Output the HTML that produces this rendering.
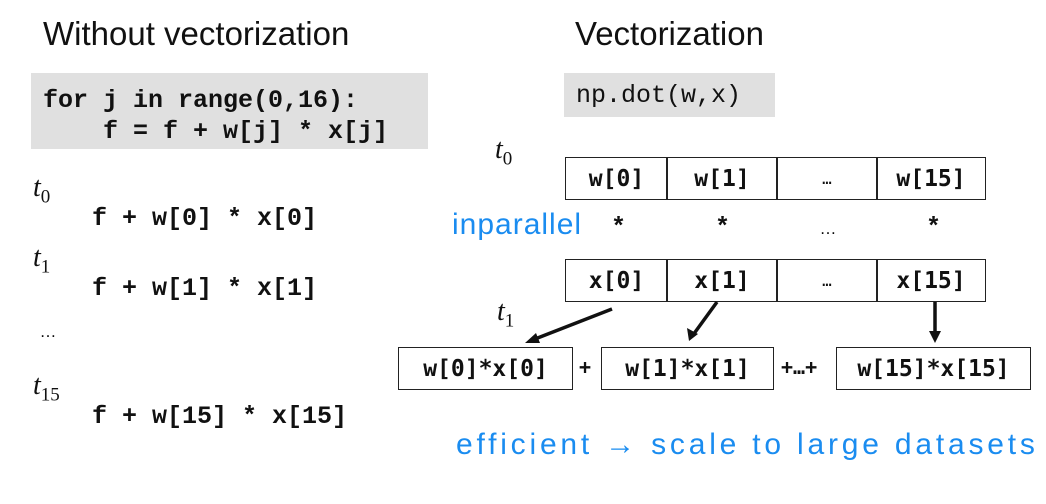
<!DOCTYPE html>
<html><head><meta charset="utf-8"><style>
body{margin:0;width:1046px;height:504px;background:#fff;position:relative;overflow:hidden}
.a{position:absolute;white-space:pre;line-height:1}
.title{font-family:"Liberation Sans",sans-serif;font-size:33px;color:#111}
.code{font-family:"Liberation Mono",monospace;font-weight:bold;font-size:25px;color:#111}
.t{font-family:"Liberation Serif",serif;font-style:italic;font-size:28px;color:#111}
.t sub{font-style:normal;font-size:19px}
.hand{font-family:"Liberation Sans",sans-serif;color:#1a8cf0;font-size:30px}
.cell{position:absolute;border:1.5px solid #222;box-sizing:border-box;display:flex;align-items:center;justify-content:center;font-family:"DejaVu Sans Mono",monospace;font-weight:bold;font-size:23px;color:#111}
.gray{position:absolute;background:#e0e0e0}
</style></head><body>
<div class="a title" style="left:43px;top:17px">Without vectorization</div>
<div class="a title" style="left:575px;top:17px">Vectorization</div>
<div class="gray" style="left:31px;top:73px;width:397px;height:76px"></div>
<div class="a code" style="left:43px;top:85px;line-height:31px">for j in range(0,16):
    f = f + w[j] * x[j]</div>
<div class="gray" style="left:564px;top:73px;width:211px;height:44px"></div>
<div class="a code" style="left:576px;top:83px;font-weight:normal">np.dot(w,x)</div>

<div class="a t" style="left:33px;top:174px">t<sub>0</sub></div>
<div class="a code" style="left:92px;top:206px">f + w[0] * x[0]</div>
<div class="a t" style="left:33px;top:244px">t<sub>1</sub></div>
<div class="a code" style="left:92px;top:276px">f + w[1] * x[1]</div>
<div class="a" style="left:40px;top:325px;font-family:'Liberation Serif',serif;font-size:16px">…</div>
<div class="a t" style="left:33px;top:372px">t<sub>15</sub></div>
<div class="a code" style="left:92px;top:404px">f + w[15] * x[15]</div>

<div class="a t" style="left:495px;top:136px">t<sub>0</sub></div>
<div class="cell" style="left:565px;top:157px;width:103px;height:43px">w[0]</div>
<div class="cell" style="left:666px;top:157px;width:112px;height:43px">w[1]</div>
<div class="cell" style="left:776px;top:157px;width:102px;height:43px;font-weight:normal;font-size:16px">…</div>
<div class="cell" style="left:876px;top:157px;width:110px;height:43px">w[15]</div>

<div class="a hand" style="left:452px;top:210px;letter-spacing:1px">inparallel</div>
<div class="a code" style="left:611px;top:215px">*</div>
<div class="a code" style="left:715px;top:215px">*</div>
<div class="a" style="left:820px;top:222px;font-size:16px;font-family:'Liberation Serif',serif">…</div>
<div class="a code" style="left:926px;top:215px">*</div>

<div class="cell" style="left:565px;top:259px;width:103px;height:43px">x[0]</div>
<div class="cell" style="left:666px;top:259px;width:112px;height:43px">x[1]</div>
<div class="cell" style="left:776px;top:259px;width:102px;height:43px;font-weight:normal;font-size:16px">…</div>
<div class="cell" style="left:876px;top:259px;width:110px;height:43px">x[15]</div>

<div class="a t" style="left:497px;top:298px">t<sub>1</sub></div>
<svg class="a" style="left:0;top:0" width="1046" height="504">
<g stroke="#111" stroke-width="3.5">
<line x1="612" y1="309" x2="535" y2="339"/>
<line x1="717" y1="302" x2="693" y2="335"/>
<line x1="935" y1="302" x2="935" y2="334"/>
</g>
<g fill="#111">
<polygon points="525,343 536,333 540,343"/>
<polygon points="689,341 687,328 698,334"/>
<polygon points="935,343 929,331 941,331"/>
</g></svg>

<div class="cell" style="left:398px;top:347px;width:175px;height:43px">w[0]*x[0]</div>
<div class="a code" style="left:579px;top:357px;font-family:'DejaVu Sans Mono',monospace;font-size:20px">+</div>
<div class="cell" style="left:601px;top:347px;width:173px;height:43px">w[1]*x[1]</div>
<div class="a code" style="left:781px;top:357px;font-family:'DejaVu Sans Mono',monospace;font-size:20px">+…+</div>
<div class="cell" style="left:836px;top:347px;width:195px;height:43px">w[15]*x[15]</div>

<div class="a hand" style="left:456px;top:430px;letter-spacing:3.8px">efficient → scale to large datasets</div>
</body></html>
